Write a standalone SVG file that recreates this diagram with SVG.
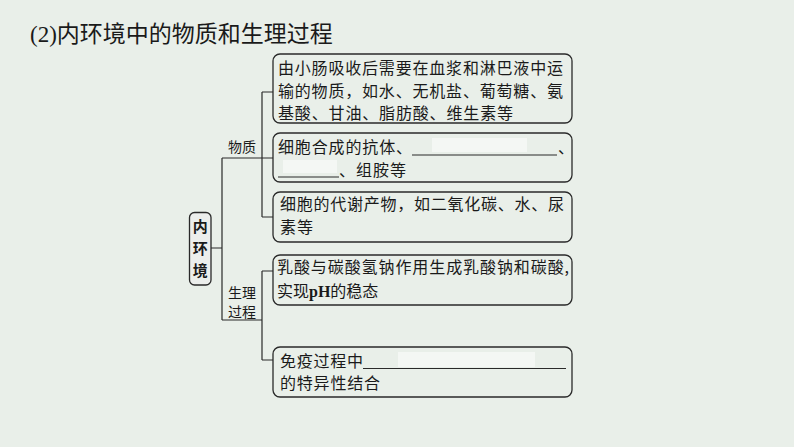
<svg xmlns="http://www.w3.org/2000/svg" width="794" height="447" viewBox="0 0 794 447">
<style>
.bg{fill:#e9efe9}
.box{fill:#e9efe9;stroke:#2a2a2a;stroke-width:1.3}
.t{font-family:"Noto Sans CJK SC","Noto Sans",sans-serif;font-size:16px;fill:#1a1a1a}
.lab{font-family:"Noto Sans CJK SC","Noto Sans",sans-serif;font-size:14px;fill:#1a1a1a}
.ln{fill:none;stroke:#2a2a2a;stroke-width:1.2}
.ul{stroke:#2a2a2a;stroke-width:1.1}
.patch{fill:#f4f7f4}
</style>
<rect class="bg" x="0" y="0" width="794" height="447"/>
<text x="30" y="42" font-family="'Noto Sans CJK SC','Noto Sans',sans-serif" font-size="23" fill="#1a1a1a"><tspan font-family="'Liberation Serif',serif">(2)</tspan>内环境中的物质和生理过程</text>

<g id="connectors">
<path class="ln" d="M211,248 H222 M222,158 V320 M222,158 H262 M262,92 V217 M262,92 H273 M262,158 H273 M262,217 H273 M222,320 H262 M262,271 V360 M262,271 H273 M262,360 H273"/>
<text class="lab" x="228" y="152">物质</text>
<text class="lab" x="228" y="298">生理</text>
<text class="lab" x="228" y="317">过程</text>
</g>

<g id="node-root">
<rect x="189.5" y="212.5" width="21.5" height="72.5" rx="5" fill="#eceeec" stroke="#2a2a2a" stroke-width="1.3"/>
<text x="200.2" y="232" text-anchor="middle" font-family="'Noto Sans CJK SC',sans-serif" font-size="15" font-weight="bold" fill="#1a1a1a">内</text>
<text x="200.2" y="254" text-anchor="middle" font-family="'Noto Sans CJK SC',sans-serif" font-size="15" font-weight="bold" fill="#1a1a1a">环</text>
<text x="200.2" y="276" text-anchor="middle" font-family="'Noto Sans CJK SC',sans-serif" font-size="15" font-weight="bold" fill="#1a1a1a">境</text>
</g>

<g id="node-1">
<rect class="box" x="273" y="54" width="299" height="69" rx="7"/>
<text class="t" x="278" y="74" textLength="285" lengthAdjust="spacing">由小肠吸收后需要在血浆和淋巴液中运</text>
<text class="t" x="278" y="97" textLength="285" lengthAdjust="spacing">输的物质，如水、无机盐、葡萄糖、氨</text>
<text class="t" x="278" y="119" textLength="235" lengthAdjust="spacing">基酸、甘油、脂肪酸、维生素等</text>
</g>

<g id="node-2">
<rect class="box" x="273" y="133" width="299" height="49" rx="7"/>
<rect class="patch" x="432" y="138" width="95" height="14"/>
<rect class="patch" x="283" y="160" width="54" height="13"/>
<text class="t" x="278" y="153" textLength="134" lengthAdjust="spacing">细胞合成的抗体、</text>
<line class="ul" x1="412" y1="155" x2="557" y2="155"/>
<text class="t" x="558" y="153">、</text>
<line class="ul" x1="278" y1="177" x2="339" y2="177"/>
<text class="t" x="339" y="176" textLength="67" lengthAdjust="spacing">、组胺等</text>
</g>

<g id="node-3">
<rect class="box" x="273" y="192" width="299" height="50" rx="7"/>
<text class="t" x="280" y="210" textLength="284" lengthAdjust="spacing">细胞的代谢产物，如二氧化碳、水、尿</text>
<text class="t" x="280" y="233" textLength="33" lengthAdjust="spacing">素等</text>
</g>

<g id="node-4">
<rect class="box" x="273" y="255" width="299" height="50" rx="7"/>
<text class="t" x="277" y="273" textLength="292" lengthAdjust="spacing">乳酸与碳酸氢钠作用生成乳酸钠和碳酸,</text>
<text class="t" x="277" y="297">实现<tspan font-family="'Liberation Serif',serif" font-weight="bold">pH</tspan>的稳态</text>
</g>

<g id="node-5">
<rect class="box" x="273" y="347" width="299" height="50" rx="7"/>
<rect class="patch" x="398" y="352" width="137" height="15"/>
<text class="t" x="280" y="367" textLength="83" lengthAdjust="spacing">免疫过程中</text>
<line class="ul" x1="363" y1="368.5" x2="566" y2="368.5"/>
<text class="t" x="280" y="389" textLength="100" lengthAdjust="spacing">的特异性结合</text>
</g>
</svg>
